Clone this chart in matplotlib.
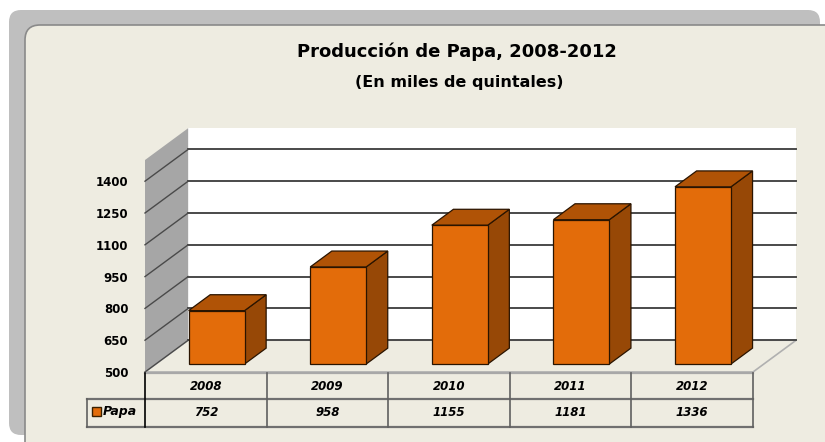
import matplotlib
matplotlib.use("Agg")
import matplotlib.pyplot as plt
from matplotlib.patches import Polygon, FancyBboxPatch, Rectangle
from matplotlib.transforms import blended_transform_factory

# ---------------- datos ----------------
years = ["2008", "2009", "2010", "2011", "2012"]
papa = [752, 958, 1155, 1181, 1336]
y_ticks = [500, 650, 800, 950, 1100, 1250, 1400]
series_name = "Papa"
title = "Producción de Papa, 2008-2012"
subtitle = "(En miles de quintales)"

# colores
C_FRONT = "#E36C0A"
C_TOP = "#B05306"
C_SIDE = "#974806"
C_PANEL = "#EEECE1"
C_SHADOW = "#BFBFBF"
C_WALL = "#A6A6A6"
C_GRID = "#4A4A4A"

W, H = 825, 442
fig = plt.figure(figsize=(W / 100, H / 100), dpi=100)
fig.patch.set_facecolor("white")

# fondo: sombra gris y panel beige redondeado (en pixeles)
bg = fig.add_axes([0, 0, 1, 1])
bg.set_xlim(0, W)
bg.set_ylim(H, 0)
bg.axis("off")
bg.add_patch(FancyBboxPatch((21, 22), 787, 401, boxstyle="round,pad=12",
                            fc=C_SHADOW, ec="none"))
bg.add_patch(FancyBboxPatch((40, 40), 900, 500, boxstyle="round,pad=15",
                            fc=C_PANEL, ec="#8A8A8A", lw=1.2))

# ejes principales (plano frontal)
ax = fig.add_axes([145 / W, (H - 372) / H, 608 / W, 212 / H])
ax.set_xlim(-0.5, len(years) - 0.5)
ax.set_ylim(500, 1500)
ax.patch.set_visible(False)
for s in ax.spines.values():
    s.set_visible(False)
ax.set_xticks([])
ax.set_yticks(y_ticks)
ax.set_yticklabels([str(t) for t in y_ticks], fontsize=8.5, fontweight="bold")
ax.tick_params(axis="y", length=0, pad=12)

DX, DY = 0.355, 150  # profundidad de la caja 3D
x0, x1 = -0.5, len(years) - 0.5
ymin, ymax = 500, 1500

# pared trasera, pared lateral, piso
ax.add_patch(Polygon([(x0 + DX, ymin + DY), (x1 + DX, ymin + DY),
                      (x1 + DX, ymax + DY), (x0 + DX, ymax + DY)],
                     closed=True, fc="white", ec="none", clip_on=False, zorder=1))
ax.add_patch(Polygon([(x0, ymin), (x0 + DX, ymin + DY),
                      (x0 + DX, ymax + DY), (x0, ymax)],
                     closed=True, fc=C_WALL, ec="none", clip_on=False, zorder=1))
ax.add_patch(Polygon([(x0, ymin), (x1, ymin), (x1 + DX, ymin + DY), (x0 + DX, ymin + DY)],
                     closed=True, fc=C_PANEL, ec="#B0B0B0", lw=1.2, clip_on=False, zorder=1))

# lineas de cuadricula
for t in y_ticks:
    ax.plot([x0 + DX, x1 + DX], [t + DY, t + DY], color=C_GRID, lw=1.4,
            clip_on=False, zorder=2)
    ax.plot([x0, x0 + DX], [t, t + DY], color=C_GRID, lw=1.0,
            clip_on=False, zorder=2)

# barras 3D
bw = 0.46
f0, f1 = 0.25, 0.75
for i, v in enumerate(papa):
    xl = i - bw / 2 + f0 * DX
    xr = i + bw / 2 + f0 * DX
    yb = ymin + f0 * DY
    yt = v + f0 * DY
    ddx, ddy = (f1 - f0) * DX, (f1 - f0) * DY
    ax.add_patch(Polygon([(xr, yb), (xr + ddx, yb + ddy), (xr + ddx, yt + ddy), (xr, yt)],
                         closed=True, fc=C_SIDE, ec="#2A1400", lw=0.9, clip_on=False, zorder=3))
    ax.add_patch(Polygon([(xl, yt), (xr, yt), (xr + ddx, yt + ddy), (xl + ddx, yt + ddy)],
                         closed=True, fc=C_TOP, ec="#2A1400", lw=0.9, clip_on=False, zorder=3))
    ax.add_patch(Rectangle((xl, yb), xr - xl, yt - yb, fc=C_FRONT, ec="#2A1400",
                           lw=0.9, clip_on=False, zorder=4))

# tabla de datos
tr = blended_transform_factory(ax.transData, fig.transFigure)
r0, r1, r2 = 1 - 373 / H, 1 - 399 / H, 1 - 427 / H
leg_x = -0.977
ax.plot([x0, x1], [r0, r0], transform=tr, color="#A8A8A8", lw=1.6, clip_on=False)
ax.plot([leg_x, x1], [r1, r1], transform=tr, color="#707070", lw=1.6, clip_on=False)
ax.plot([leg_x, x1], [r2, r2], transform=tr, color="#707070", lw=1.6, clip_on=False)
ax.plot([x0, x0], [r0, r2], transform=tr, color="black", lw=1.2, clip_on=False)
ax.plot([leg_x, leg_x], [r1, r2], transform=tr, color="#606060", lw=1.2, clip_on=False)
for k in range(1, len(years) + 1):
    ax.plot([x0 + k, x0 + k], [r0, r2], transform=tr, color="#606060", lw=1.2,
            clip_on=False)
for i, (yr, v) in enumerate(zip(years, papa)):
    ax.text(i, (r0 + r1) / 2, yr, transform=tr, ha="center", va="center",
            fontsize=8.5, fontweight="bold", fontstyle="italic")
    ax.text(i, (r1 + r2) / 2, str(v), transform=tr, ha="center", va="center",
            fontsize=8.5, fontweight="bold", fontstyle="italic")

# leyenda dentro de la tabla
bg.add_patch(Rectangle((92, 407), 9, 9, fc=C_FRONT, ec="#3A2000", lw=1))
bg.text(103, 412, series_name, ha="left", va="center", fontsize=9,
        fontweight="bold", fontstyle="italic")

# titulos
fig.text(457 / W, 1 - 52 / H, title, ha="center", va="center", fontsize=13,
         fontweight="bold")
fig.text(459 / W, 1 - 83 / H, subtitle, ha="center", va="center", fontsize=11.5,
         fontweight="bold")

fig.savefig("out.png", dpi=100)
